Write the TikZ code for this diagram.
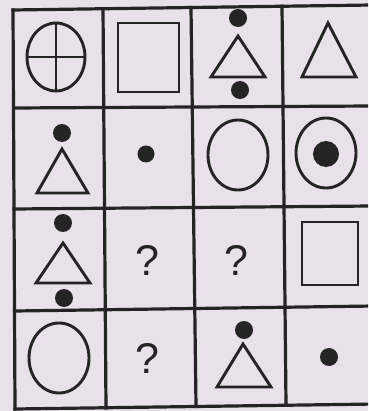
\documentclass[tikz,border=0pt]{standalone}
\usepackage{fontspec}
\setsansfont{Liberation Sans}
\definecolor{tinta}{HTML}{242424}
\definecolor{papel}{HTML}{E8E1E9}

\begin{document}
\begin{tikzpicture}[x=1pt, y=-1pt,
    rejilla/.style={line width=3.2pt, draw=tinta, line cap=rect},
    trazo/.style={line width=2.9pt, draw=tinta, line join=miter},
    punto/.style={fill=tinta},
    duda/.style={font=\sffamily\fontsize{43}{43}\selectfont, text=tinta, inner sep=0pt}
  ]
  \fill[papel] (0,0) rectangle (368,411);
  \useasboundingbox (0,0) rectangle (368,411);

  % rejilla, un poco torcida como en la hoja
  \begin{scope}
    \clip (0,0) rectangle (368,411);
    \foreach \xa/\ya/\xb/\yb in {13/10/15/409, 103/8.7/106/408, 191/7.5/196/406.5,
                                 282/6.3/286/405, 372/5/376/404} {
      \draw[rejilla] (\xa,\ya) -- (\xb,\yb);
    }
    \foreach \xa/\ya/\xb/\yb in {13/10/372/5, 14/108/372/106, 14/209/372/206,
                                 14.5/311/374/306, 15/409/376/404} {
      \draw[rejilla] (\xa,\ya) -- (\xb,\yb);
    }
  \end{scope}

  % fila 1
  \draw[trazo] (56,57) ellipse [x radius=29, y radius=34];
  \draw[trazo] (56,23) -- (56,91) (27,57) -- (85,57);
  \draw[trazo] (118,23) rectangle (179,92);
  \fill[punto] (238,18) circle [radius=9];
  \draw[trazo] (238,36) -- (265,77) -- (211,77) -- cycle;
  \fill[punto] (240,90) circle [radius=9];
  \draw[trazo] (328,23) -- (356,77) -- (302,77) -- cycle;

  % fila 2
  \fill[punto] (62,133) circle [radius=9];
  \draw[trazo] (62,149) -- (88,193) -- (37,193) -- cycle;
  \fill[punto] (146,154) circle [radius=8.5];
  \draw[trazo] (238,155) ellipse [x radius=30, y radius=35];
  \draw[trazo] (326,153) ellipse [x radius=30, y radius=35];
  \fill[punto] (326,154) circle [radius=13];

  % fila 3
  \fill[punto] (63,223) circle [radius=9];
  \draw[trazo] (63,243) -- (90,283) -- (36,283) -- cycle;
  \fill[punto] (64,298) circle [radius=9];
  \node[duda] (q1) at (147,260) {?};
  \node[duda] (q2) at (236,260) {?};
  \draw[trazo] (302,222) rectangle (358,285);

  % fila 4
  \draw[trazo] (59,358) ellipse [x radius=30, y radius=35];
  \node[duda] (q3) at (147,358) {?};
  \fill[punto] (244,330) circle [radius=9];
  \draw[trazo] (243,344) -- (271,387) -- (217,387) -- cycle;
  \fill[punto] (329,357) circle [radius=9];
\end{tikzpicture}
\end{document}
